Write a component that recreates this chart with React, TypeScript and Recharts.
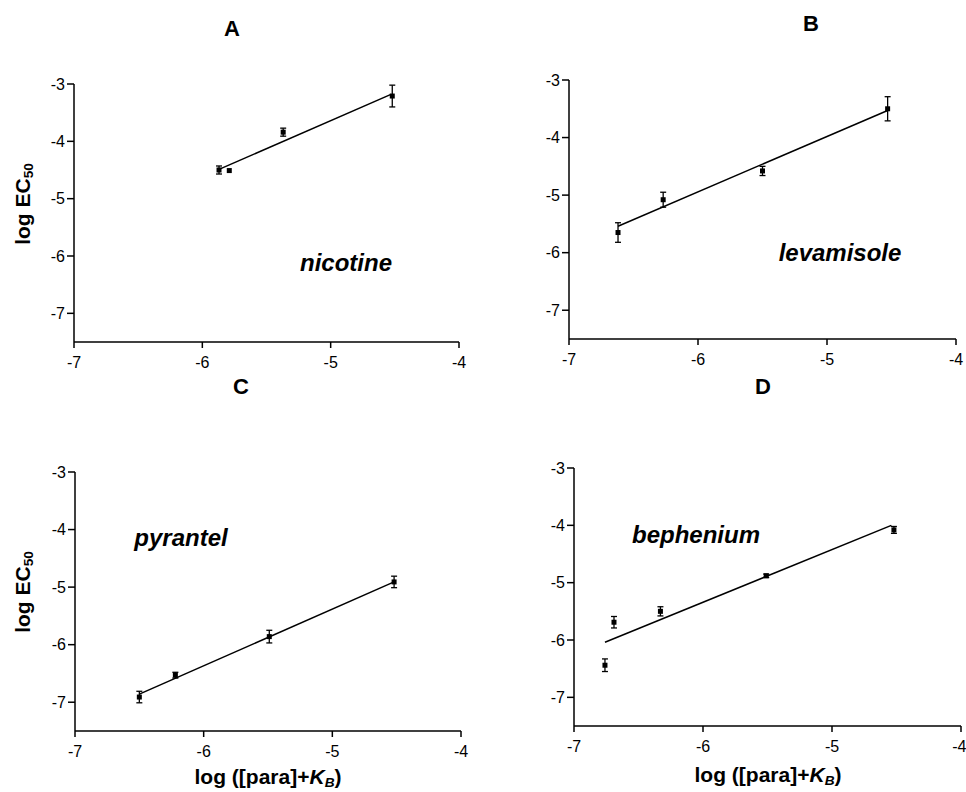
import React from "react";
import { ScatterChart, Scatter, XAxis, YAxis, ErrorBar } from "recharts";

// x ticks / y ticks shared by all four panels
const X_TICKS = [-7, -6, -5, -4];
const Y_TICKS = [-7, -6, -5, -4, -3];

// A: nicotine
const nicotineX = [-5.87, -5.79, -5.37, -4.52];
const nicotineY = [-4.5, -4.51, -3.84, -3.21];
const nicotineErr = [0.07, 0, 0.07, 0.19];
const nicotineFitX = [-5.87, -4.53];
const nicotineFitY = [-4.49, -3.18];

// B: levamisole
const levamisoleX = [-6.62, -6.27, -5.5, -4.53];
const levamisoleY = [-5.65, -5.08, -4.58, -3.5];
const levamisoleErr = [0.17, 0.13, 0.08, 0.21];
const levamisoleFitX = [-6.62, -4.53];
const levamisoleFitY = [-5.54, -3.53];

// C: pyrantel
const pyrantelX = [-6.5, -6.22, -5.49, -4.52];
const pyrantelY = [-6.91, -6.53, -5.86, -4.91];
const pyrantelErr = [0.1, 0.05, 0.11, 0.1];
const pyrantelFitX = [-6.5, -4.52];
const pyrantelFitY = [-6.86, -4.91];

// D: bephenium
const bepheniumX = [-6.76, -6.69, -6.33, -5.51, -4.52];
const bepheniumY = [-6.44, -5.69, -5.5, -4.88, -4.08];
const bepheniumErr = [0.11, 0.1, 0.08, 0.03, 0.06];
const bepheniumFitX = [-6.76, -4.54];
const bepheniumFitY = [-6.04, -4.0];

const FONT = "'Liberation Sans', Arial, Helvetica, sans-serif";

const toPoints = (xs: number[], ys: number[], errs?: number[]) =>
  xs.map((x, i) => ({ x, y: ys[i], err: errs ? errs[i] : 0 }));

const Square = (props: any) => {
  const { cx, cy } = props;
  if (cx == null || cy == null) return <g />;
  return <rect x={cx - 2.5} y={cy - 2.5} width={5} height={5} fill="#000" />;
};

const XTick = (props: any) => {
  const { x, y, payload } = props;
  return (
    <text x={x} y={y} dy="0.75em" textAnchor="middle" fill="#000" fontSize={16} fontFamily={FONT}>
      {payload.value}
    </text>
  );
};

const YTick = (props: any) => {
  const { x, y, payload } = props;
  return (
    <text x={x} y={y} dy="0.36em" textAnchor="end" fill="#000" fontSize={16} fontFamily={FONT}>
      {payload.value}
    </text>
  );
};

interface PanelProps {
  left: number;
  top: number;
  width: number;
  height: number;
  yAxisWidth: number;
  margin: { top: number; right: number; bottom: number; left: number };
  points: { x: number; y: number; err: number }[];
  fit: { x: number; y: number; err: number }[];
}

function Panel({ left, top, width, height, yAxisWidth, margin, points, fit }: PanelProps) {
  return (
    <div style={{ position: "absolute", left, top, width, height }}>
      <ScatterChart width={width} height={height} margin={margin}>
        <XAxis
          type="number"
          dataKey="x"
          domain={[-7, -4]}
          ticks={X_TICKS}
          allowDataOverflow
          stroke="#000"
          strokeWidth={1.5}
          tickSize={6}
          tickMargin={8}
          height={30}
          tick={<XTick />}
        />
        <YAxis
          type="number"
          dataKey="y"
          domain={[-7.5, -3]}
          ticks={Y_TICKS}
          allowDataOverflow
          stroke="#000"
          strokeWidth={1.5}
          tickSize={7}
          tickMargin={2}
          width={yAxisWidth}
          tick={<YTick />}
        />
        <Scatter
          data={fit}
          line={{ stroke: "#000", strokeWidth: 1.5 }}
          shape={() => <g />}
          isAnimationActive={false}
        />
        <Scatter data={points} shape={Square} isAnimationActive={false}>
          <ErrorBar dataKey="err" direction="y" width={3} stroke="#000" strokeWidth={1.3} />
        </Scatter>
      </ScatterChart>
    </div>
  );
}

const Label = ({ x, y, size, italic, rotate, children }: any) => (
  <div
    style={{
      position: "absolute",
      left: x,
      top: y,
      transform: `translate(-50%, -50%)${rotate ? " rotate(-90deg)" : ""}`,
      fontFamily: FONT,
      fontWeight: "bold",
      fontStyle: italic ? "italic" : "normal",
      fontSize: size,
      whiteSpace: "nowrap",
      lineHeight: 1,
      color: "#000",
    }}
  >
    {children}
  </div>
);

const YTitle = () => (
  <span>
    log EC<sub style={{ fontSize: "0.65em", verticalAlign: "-0.25em" }}>50</sub>
  </span>
);

const XTitle = () => (
  <span>
    log ([para]+<i>K</i>
    <sub style={{ fontSize: "0.65em", verticalAlign: "-0.25em", fontStyle: "italic" }}>B</sub>)
  </span>
);

export default function App() {
  return (
    <div
      style={{
        position: "absolute",
        left: 0,
        top: 0,
        width: 966,
        height: 792,
        background: "#fff",
        overflow: "hidden",
      }}
    >
      <Panel
        left={0}
        top={0}
        width={483}
        height={396}
        yAxisWidth={74}
        margin={{ top: 84, right: 24, bottom: 24, left: 0 }}
        points={toPoints(nicotineX, nicotineY, nicotineErr)}
        fit={toPoints(nicotineFitX, nicotineFitY)}
      />
      <Panel
        left={483}
        top={0}
        width={483}
        height={396}
        yAxisWidth={86}
        margin={{ top: 80, right: 10, bottom: 27, left: 0 }}
        points={toPoints(levamisoleX, levamisoleY, levamisoleErr)}
        fit={toPoints(levamisoleFitX, levamisoleFitY)}
      />
      <Panel
        left={0}
        top={396}
        width={483}
        height={396}
        yAxisWidth={75}
        margin={{ top: 76, right: 22, bottom: 31, left: 0 }}
        points={toPoints(pyrantelX, pyrantelY, pyrantelErr)}
        fit={toPoints(pyrantelFitX, pyrantelFitY)}
      />
      <Panel
        left={483}
        top={396}
        width={483}
        height={396}
        yAxisWidth={91}
        margin={{ top: 72, right: 5, bottom: 36, left: 0 }}
        points={toPoints(bepheniumX, bepheniumY, bepheniumErr)}
        fit={toPoints(bepheniumFitX, bepheniumFitY)}
      />

      <Label x={232} y={29} size={22}>A</Label>
      <Label x={811} y={24} size={22}>B</Label>
      <Label x={241} y={387} size={22}>C</Label>
      <Label x={763} y={387} size={22}>D</Label>

      <Label x={346} y={263} size={24} italic>nicotine</Label>
      <Label x={840} y={253} size={24} italic>levamisole</Label>
      <Label x={181} y={538} size={24} italic>pyrantel</Label>
      <Label x={696} y={535} size={24} italic>bephenium</Label>

      <Label x={24} y={204} size={21} rotate>
        <YTitle />
      </Label>
      <Label x={24} y={592} size={21} rotate>
        <YTitle />
      </Label>

      <Label x={268} y={778} size={21}>
        <XTitle />
      </Label>
      <Label x={768} y={776} size={21}>
        <XTitle />
      </Label>
    </div>
  );
}
